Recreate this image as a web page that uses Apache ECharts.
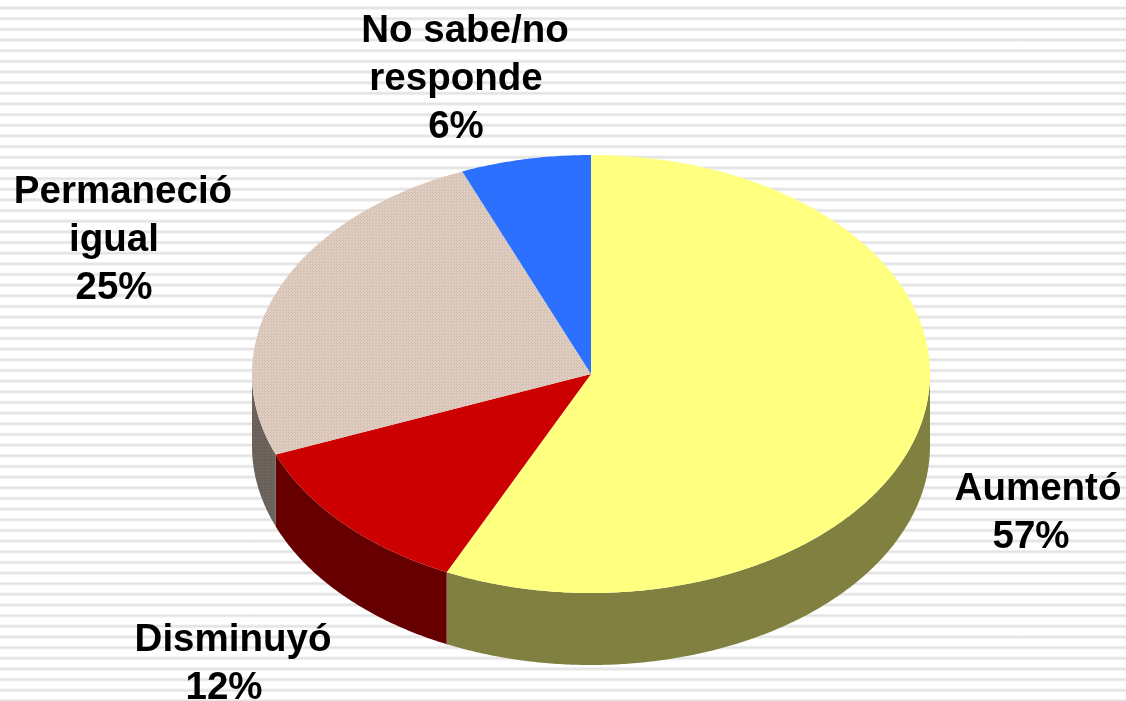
<!DOCTYPE html>
<html>
<head>
<meta charset="utf-8">
<script src="https://cdn.jsdelivr.net/npm/echarts@6/dist/echarts.min.js"></script>
<style>
html,body{margin:0;padding:0;width:1126px;height:701px;overflow:hidden;background:#fff}
#stripes{position:absolute;left:0;top:0;width:1126px;height:701px;
background-image:repeating-linear-gradient(180deg,#fff 0,#fff 5.8px,#f1f1f1 6.6px,#e3e3e3 7.7px,#e3e3e3 8.3px,#f1f1f1 9.4px,#fff 10.4px,#fff 10.66px)}
#main{position:absolute;left:0;top:0;width:1126px;height:701px}
</style>
</head>
<body>
<div id="stripes"></div>
<div id="main"></div>
<script>
const categories = ['Aumentó', 'Disminuyó', 'Permaneció\nigual', 'No sabe/no\nresponde'];
const values = [57, 12, 24.8, 6.2];
const topColors = ['#ffff80', '#cc0000', 'beige', '#2b70ff'];
const wallColors = ['#808040', '#660000', 'taupe', '#152f80'];
const labelCentres = [[1038, 489], [233, 640], [123, 192], [465, 31]];
const restLineShift = [-7, -9, -9, -9];
const lineStep = 48;
const labelFont = 'bold 38.5px "Liberation Sans", Arial, sans-serif';

const cx = 591, cy = 374, rx = 339, ry = 219, depth = 72;

function dots(bg, fg) {
  const c = document.createElement('canvas');
  c.width = 3; c.height = 3;
  const g = c.getContext('2d');
  g.fillStyle = bg; g.fillRect(0, 0, 3, 3);
  g.fillStyle = fg;
  g.fillRect(0, 0, 1, 1); g.fillRect(1, 1, 1, 1);
  return { image: c, repeat: 'repeat' };
}
const textures = {
  beige: dots('#dfcdc1', '#cfb9ab'),
  taupe: dots('#6e655f', '#5f5650')
};
const paint = c => textures[c] || c;

const total = values.reduce((a, b) => a + b, 0);
function bounds(i) {
  let s = 0;
  for (let k = 0; k < i; k++) s += values[k];
  return [s / total * 360, (s + values[i]) / total * 360];
}
function pt(deg, dy) {
  const t = deg * Math.PI / 180;
  return [cx + rx * Math.sin(t), cy - ry * Math.cos(t) + dy];
}
function arc(a, b, dy) {
  const n = Math.max(2, Math.ceil(Math.abs(b - a) * 2));
  const out = [];
  for (let k = 0; k <= n; k++) out.push(pt(a + (b - a) * k / n, dy));
  return out;
}

const chart = echarts.init(document.getElementById('main'), null, { renderer: 'canvas' });
const rows = values.map((v, i) => ({ name: categories[i], value: [v, i] }));

chart.setOption({
  backgroundColor: 'transparent',
  animation: false,
  series: [
    {
      type: 'custom', coordinateSystem: 'none', silent: true, z: 1, data: rows,
      renderItem(p, api) {
        const i = api.value(1);
        const [a, b] = bounds(i);
        const s = Math.max(a, 90), e = Math.min(b, 270);
        if (e <= s) return { type: 'group', children: [] };
        const pts = arc(s, e, 0).concat(arc(e, s, depth));
        return { type: 'polygon', shape: { points: pts },
          style: { fill: paint(wallColors[i]), stroke: null } };
      }
    },
    {
      type: 'custom', coordinateSystem: 'none', silent: true, z: 2, data: rows,
      renderItem(p, api) {
        const i = api.value(1);
        const [a, b] = bounds(i);
        const pts = [[cx, cy]].concat(arc(a, b, 0));
        return { type: 'polygon', shape: { points: pts },
          style: { fill: paint(topColors[i]), stroke: null } };
      }
    },
    {
      type: 'custom', coordinateSystem: 'none', silent: true, z: 3, data: rows,
      renderItem(p, api) {
        const i = api.value(1);
        const lines = categories[i].split('\n').concat(Math.round(api.value(0)) + '%');
        return {
          type: 'group',
          children: lines.map((t, k) => ({
            type: 'text',
            style: {
              text: t,
              x: labelCentres[i][0] + (k === 0 ? 0 : restLineShift[i]),
              y: labelCentres[i][1] + k * lineStep,
              align: 'center', verticalAlign: 'middle',
              font: labelFont, fill: '#000'
            }
          }))
        };
      }
    }
  ]
});
</script>
</body>
</html>
